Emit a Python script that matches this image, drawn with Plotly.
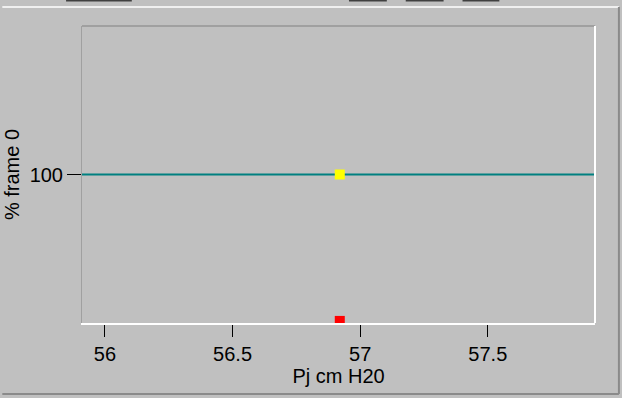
import plotly.graph_objects as go

# Axis ticks
x_ticks = [56, 56.5, 57, 57.5]
y_ticks = [100]

# Measurement point (yellow) and cursor marker on the baseline (red)
point_x = [56.92]
point_y = [100]
cursor_x = [56.92]
cursor_y = [1.4]

# Reference level drawn across the whole plot
ref_level = 100

x_range = [55.91, 57.92]
y_range = [0, 200]

BG = "#c0c0c0"
DARK = "#a0a0a0"
FONT = "Liberation Sans, Arial, sans-serif"

W, H = 622, 398
L, R, T, B = 80, 27, 26, 75
pw, ph = W - L - R, H - T - B


def px(x):
    return (x - L) / pw


def py(y):
    return (H - B - y) / ph


fig = go.Figure()

fig.add_trace(go.Scatter(
    x=point_x, y=point_y, mode="markers",
    marker=dict(symbol="square", size=10, color="#ffff00", line=dict(width=0)),
    showlegend=False, hoverinfo="skip",
))
fig.add_trace(go.Scatter(
    x=cursor_x, y=cursor_y, mode="markers",
    marker=dict(symbol="square", size=10, color="#ff0000", line=dict(width=0)),
    showlegend=False, hoverinfo="skip", cliponaxis=True,
))

shapes = [
    # reference line
    dict(type="line", xref="paper", yref="y", x0=0, x1=1, y0=ref_level, y1=ref_level,
         line=dict(color="#008080", width=2), layer="below"),
    # sunken frame: top dark, right light
    dict(type="line", xref="paper", yref="paper", x0=0, x1=1, y0=1, y1=1,
         line=dict(color=DARK, width=2)),
    dict(type="line", xref="paper", yref="paper", x0=1, x1=1, y0=0, y1=1,
         line=dict(color="#ffffff", width=2)),
    # panel borders
    dict(type="line", xref="paper", yref="paper", x0=px(0), x1=px(619), y0=py(7), y1=py(7),
         line=dict(color="#f0f0f0", width=2)),
    dict(type="line", xref="paper", yref="paper", x0=px(619), x1=px(619), y0=py(7), y1=py(394),
         line=dict(color="#8a8a8a", width=2)),
    dict(type="line", xref="paper", yref="paper", x0=px(0), x1=px(619), y0=py(394), y1=py(394),
         line=dict(color="#8a8a8a", width=2)),
]
# bottoms of the toolbar buttons along the top edge
for a, b in [(64, 130), (348, 386), (405, 443), (462, 499)]:
    shapes.append(dict(type="line", xref="paper", yref="paper", x0=px(a), x1=px(b),
                       y0=py(0.5), y1=py(0.5), line=dict(color="#404040", width=2)))

fig.update_layout(
    width=W, height=H,
    margin=dict(l=L, r=R, t=T, b=B, pad=0),
    paper_bgcolor=BG, plot_bgcolor=BG,
    font=dict(family=FONT, size=20, color="#000000"),
    shapes=shapes,
    xaxis=dict(
        range=x_range, tickvals=x_ticks, ticktext=[f"{v:g}" for v in x_ticks],
        showgrid=False, zeroline=False,
        showline=True, linecolor="#ffffff", linewidth=2,
        ticks="outside", ticklen=12, tickwidth=1, tickcolor="#000000",
        tickfont=dict(family=FONT, size=20),
        title=dict(text="Pj cm H20", font=dict(family=FONT, size=20), standoff=2),
    ),
    yaxis=dict(
        range=y_range, tickvals=y_ticks, ticktext=[f"{v:g}" for v in y_ticks],
        showgrid=False, zeroline=False,
        showline=True, linecolor=DARK, linewidth=1,
        ticks="outside", ticklen=14, tickwidth=1, tickcolor="#000000",
        tickfont=dict(family=FONT, size=20),
        title=dict(text="% frame 0", font=dict(family=FONT, size=20), standoff=4),
    ),
)

fig.write_html("out.html")
